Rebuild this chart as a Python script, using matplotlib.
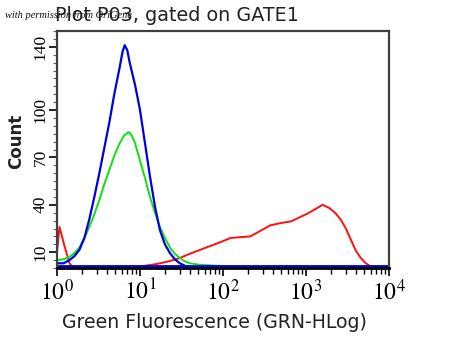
import numpy as np
import matplotlib
matplotlib.use("Agg")
import matplotlib.pyplot as plt
from matplotlib.ticker import FixedLocator, LogLocator, NullFormatter

plt.rcParams['mathtext.fontset'] = 'stix'

# ====== DATA (log10 of fluorescence, count) ======
blue_logx = [0.0, 0.08, 0.15, 0.21, 0.27, 0.33, 0.39, 0.45, 0.51, 0.57, 0.63, 0.69, 0.755, 0.79,
             0.816, 0.846, 0.876, 0.94, 1.0, 1.06, 1.12, 1.18, 1.24, 1.30, 1.36, 1.42, 1.48,
             1.55, 1.62, 1.7, 4.0]
blue_cnt = [3, 3, 5, 7.5, 11.5, 19, 31, 45, 60, 76, 92, 110, 127, 137,
            141, 138, 130, 116, 100, 79, 58, 39, 24, 15, 9.5, 5.5, 3,
            1.2, 0.3, 0, 0]

green_logx = [0.0, 0.08, 0.15, 0.21, 0.27, 0.33, 0.39, 0.45, 0.51, 0.57, 0.63, 0.69, 0.755, 0.81,
              0.866, 0.90, 0.94, 1.0, 1.06, 1.12, 1.18, 1.24, 1.30, 1.36, 1.42, 1.48, 1.54,
              1.6, 1.72, 1.9, 2.1, 2.2, 4.0]
green_cnt = [5, 5.5, 7, 9.5, 13, 19, 26, 34, 43, 53, 62, 71, 79, 84,
             86, 84, 79, 68, 57, 45, 35, 26, 19, 13, 9, 6.3, 4.2,
             3, 2, 1.5, 1, 0, 0]

red_logx = [0.0, 0.03, 0.09, 0.15, 0.2, 0.9, 1.0, 1.2, 1.33, 1.48, 1.6, 1.8, 2.0, 2.09, 2.2, 2.33,
            2.45, 2.57, 2.7, 2.82, 2.92, 3.02, 3.12, 3.2, 3.28, 3.35, 3.42, 3.48, 3.54, 3.6,
            3.66, 3.72, 3.78, 3.85, 4.0]
red_cnt = [10, 26, 14, 3, 0, 0, 1, 2.5, 4, 6.3, 9, 13, 17, 19, 19.5, 20,
           23.5, 27, 28.5, 29.5, 32, 34.5, 37.5, 40, 38, 35, 30.5, 25, 18, 11,
           6.3, 3, 1, 0, 0]

y_ticks = [10, 40, 70, 100, 140]
x_ticks = [1, 10, 100, 1000, 10000]
x_labels = [r'$10^{0}$', r'$10^{1}$', r'$10^{2}$', r'$10^{3}$', r'$10^{4}$']

fig = plt.figure(figsize=(4.5, 3.38), dpi=100)
ax = fig.add_axes([57/450, 1 - 268/338, (389 - 57)/450, (268 - 31)/338])

ax.plot(10 ** np.array(red_logx), red_cnt, color='#ff1010', lw=1.4)
ax.plot(10 ** np.array(green_logx), green_cnt, color='#10e010', lw=1.4)
ax.plot(10 ** np.array(blue_logx), blue_cnt, color='#0000e0', lw=1.6)
ax.axhline(0.8, color='#0000e0', lw=3.5)

ax.set_xscale('log')
ax.set_xlim(1, 10000)
ax.set_ylim(0, 150)

ax.xaxis.set_major_locator(FixedLocator(x_ticks))
ax.set_xticklabels(x_labels, fontsize=17)
ax.xaxis.set_minor_locator(LogLocator(base=10, subs=np.arange(2, 10)))
ax.xaxis.set_minor_formatter(NullFormatter())
ax.tick_params(axis='x', which='major', length=6, width=1.2, direction='out', pad=2)
ax.tick_params(axis='x', which='minor', length=4, width=1, direction='out')

ax.yaxis.set_major_locator(FixedLocator(y_ticks))
ax.yaxis.set_minor_locator(FixedLocator(np.arange(0, 151, 5)))
ax.set_yticklabels([str(v) for v in y_ticks], rotation=90, va='center',
                   family='Liberation Serif', fontsize=12.5)
ax.tick_params(axis='y', which='major', length=6, width=1.2, direction='out', pad=0)
ax.tick_params(axis='y', which='minor', length=3, width=0.8, direction='out', color='#666666')

for s in ['top', 'right', 'left']:
    ax.spines[s].set_color('#404040')
    ax.spines[s].set_linewidth(1.6)
ax.spines['bottom'].set_color('black')
ax.spines['bottom'].set_linewidth(2)

fig.text(55/450, 1 - 21/338, 'Plot P03, gated on GATE1', fontsize=13.8,
         color='#222222', ha='left', va='baseline')
fig.text(5/450, 1 - 18/338, 'with permission from OriGene', fontsize=7.5,
         family='Liberation Serif', style='italic', color='#111111', ha='left', va='baseline')
fig.text(214/450, 1 - 322/338, 'Green Fluorescence (GRN-HLog)', fontsize=13.6,
         color='#222222', ha='center', va='center')
fig.text(16/450, 1 - 141/338, 'Count', fontsize=12, fontweight='bold',
         rotation=90, color='#222222', ha='center', va='center')

fig.savefig('out.png', dpi=100)
